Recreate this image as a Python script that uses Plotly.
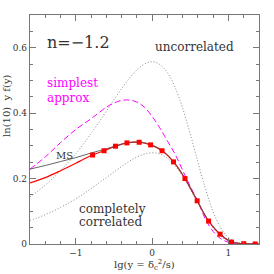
import plotly.graph_objects as go

# log10(y) grid for the analytic-looking curves
lg_grid = [-1.6, -1.5, -1.4, -1.3, -1.2, -1.1, -1.0, -0.9, -0.8, -0.7, -0.6, -0.5,
           -0.4, -0.3, -0.2, -0.1, 0.0, 0.1, 0.2, 0.3, 0.4, 0.5, 0.6, 0.7, 0.8,
           0.9, 1.0, 1.1, 1.2, 1.3, 1.4]
uncorrelated = [0.144, 0.161, 0.180, 0.201, 0.224, 0.249, 0.276, 0.306, 0.338, 0.371,
                0.406, 0.441, 0.475, 0.506, 0.532, 0.550, 0.557, 0.549, 0.524, 0.479,
                0.415, 0.336, 0.250, 0.168, 0.098, 0.049, 0.020, 0.006, 0.001, 0.0002, 0.0]
correlated = [0.072, 0.080, 0.090, 0.100, 0.112, 0.124, 0.138, 0.153, 0.169, 0.186,
              0.203, 0.220, 0.237, 0.253, 0.266, 0.275, 0.279, 0.275, 0.262, 0.239,
              0.207, 0.168, 0.125, 0.084, 0.049, 0.024, 0.010, 0.003, 0.001, 0.0001, 0.0]

simplest_lg = [-1.6, -1.4, -1.2, -1.0, -0.8, -0.6, -0.5, -0.4, -0.3, -0.2, -0.1, 0.0,
               0.1, 0.2, 0.3, 0.4, 0.5, 0.6, 0.7, 0.8, 0.9, 1.0, 1.1, 1.2, 1.4]
simplest = [0.229, 0.266, 0.310, 0.350, 0.383, 0.418, 0.431, 0.439, 0.440, 0.434,
            0.418, 0.390, 0.355, 0.315, 0.275, 0.225, 0.176, 0.130, 0.075, 0.038,
            0.016, 0.005, 0.002, 0.0005, 0.0]

ms_lg = [-1.6, -1.4, -1.2, -1.0, -0.8, -0.6, -0.45, -0.33, -0.17, -0.02, 0.13, 0.28,
         0.43, 0.59, 0.74, 0.89, 1.04, 1.2, 1.4]
ms = [0.229, 0.240, 0.252, 0.264, 0.278, 0.291, 0.301, 0.309, 0.312, 0.304, 0.286,
      0.252, 0.201, 0.133, 0.071, 0.031, 0.007, 0.001, 0.0]

red_lg = [-1.6, -1.4, -1.2, -1.0, -0.9, -0.78, -0.63, -0.48, -0.33, -0.17, -0.02, 0.13,
          0.28, 0.43, 0.59, 0.74, 0.89, 1.04, 1.2, 1.4]
red = [0.187, 0.203, 0.224, 0.247, 0.259, 0.272, 0.285, 0.299, 0.309, 0.311, 0.303,
       0.285, 0.251, 0.200, 0.132, 0.070, 0.030, 0.006, 0.001, 0.0]

pts_lg = [-0.78, -0.63, -0.48, -0.33, -0.17, -0.02, 0.13, 0.28, 0.43, 0.59, 0.74, 0.89,
          1.04, 1.2, 1.35]
pts = [0.272, 0.285, 0.299, 0.309, 0.311, 0.303, 0.285, 0.251, 0.200, 0.132, 0.070,
       0.030, 0.006, 0.001, 0.0]

y_tickvals = [0, 0.2, 0.4, 0.6]
y_ticktext = ["0", "0.2", "0.4", "0.6"]
x_tickvals = [-1, 0, 1]
x_ticktext = ["\u22121", "0", "1"]

FONT = "DejaVu Serif"
fig = go.Figure()
dotc = "#8a8a8a"
fig.add_trace(go.Scatter(x=lg_grid, y=uncorrelated, mode="lines", line_shape="spline",
                         line=dict(color=dotc, width=1, dash="1px,2px")))
fig.add_trace(go.Scatter(x=lg_grid, y=correlated, mode="lines", line_shape="spline",
                         line=dict(color=dotc, width=1, dash="1px,2px")))
fig.add_trace(go.Scatter(x=simplest_lg, y=simplest, mode="lines", line_shape="spline",
                         line=dict(color="#ff00ff", width=1, dash="6px,3px")))
fig.add_trace(go.Scatter(x=red_lg, y=red, mode="lines", line_shape="spline",
                         line=dict(color="#ff0000", width=1.2)))
fig.add_trace(go.Scatter(x=ms_lg, y=ms, mode="lines", line_shape="spline",
                         line=dict(color="#555555", width=0.9)))
fig.add_trace(go.Scatter(x=pts_lg, y=pts, mode="markers",
                         marker=dict(symbol="square", size=5, color="#ff0000")))

axcol = "#777777"
common = dict(showline=True, linecolor=axcol, linewidth=1.2, mirror="allticks",
              ticks="inside", ticklen=6, tickcolor=axcol, tickwidth=1,
              showgrid=False, zeroline=False,
              tickfont=dict(family=FONT, size=9, color="#333"))
fig.update_xaxes(range=[-1.6, 1.4], tickvals=x_tickvals, ticktext=x_ticktext,
                 minor=dict(dtick=0.2, tick0=0, ticks="inside", ticklen=3,
                            tickcolor=axcol), **common)
fig.update_yaxes(range=[0, 0.7], tickvals=y_tickvals, ticktext=y_ticktext,
                 minor=dict(dtick=0.05, tick0=0, ticks="inside", ticklen=3,
                            tickcolor=axcol), **common)

ann = [
    dict(x=0.065, y=0.615, text="n=\u22121.2", font=dict(size=16, color="#333")),
    dict(x=0.537, y=0.602, text="uncorrelated", font=dict(size=12, color="#333")),
    dict(x=0.065, y=0.492, text="simplest", font=dict(size=12, color="#ff00ff")),
    dict(x=0.065, y=0.447, text="approx", font=dict(size=12, color="#ff00ff")),
    dict(x=0.205, y=0.107, text="completely", font=dict(size=12, color="#333")),
    dict(x=0.205, y=0.068, text="correlated", font=dict(size=12, color="#333")),
    dict(x=0.105, y=0.272, text="MS", font=dict(size=10, color="#333")),
]
for a in ann:
    fig.add_annotation(x=a["x"], y=a["y"], xref="paper", yref="y", text=a["text"],
                       showarrow=False, xanchor="left", yanchor="middle",
                       font=dict(family=FONT, **a["font"]))
fig.add_annotation(x=0.5, y=-0.093, xref="paper", yref="paper",
                   text="lg(y = \u03b4<sub>c</sub><sup>2</sup>/s)", showarrow=False,
                   xanchor="center", yanchor="middle",
                   font=dict(family=FONT, size=10, color="#333"))
fig.add_annotation(x=-0.1, y=0.603, xref="paper", yref="paper",
                   text="ln(10)  y f(y)", showarrow=False, textangle=-90,
                   xanchor="center", yanchor="middle",
                   font=dict(family=FONT, size=10, color="#333"))

fig.update_layout(width=274, height=274, margin=dict(l=30, r=15, t=15, b=30),
                  showlegend=False, plot_bgcolor="white", paper_bgcolor="white")
fig.write_html("out.html", config={"displayModeBar": False},
               post_script="document.body.style.margin='0';")
